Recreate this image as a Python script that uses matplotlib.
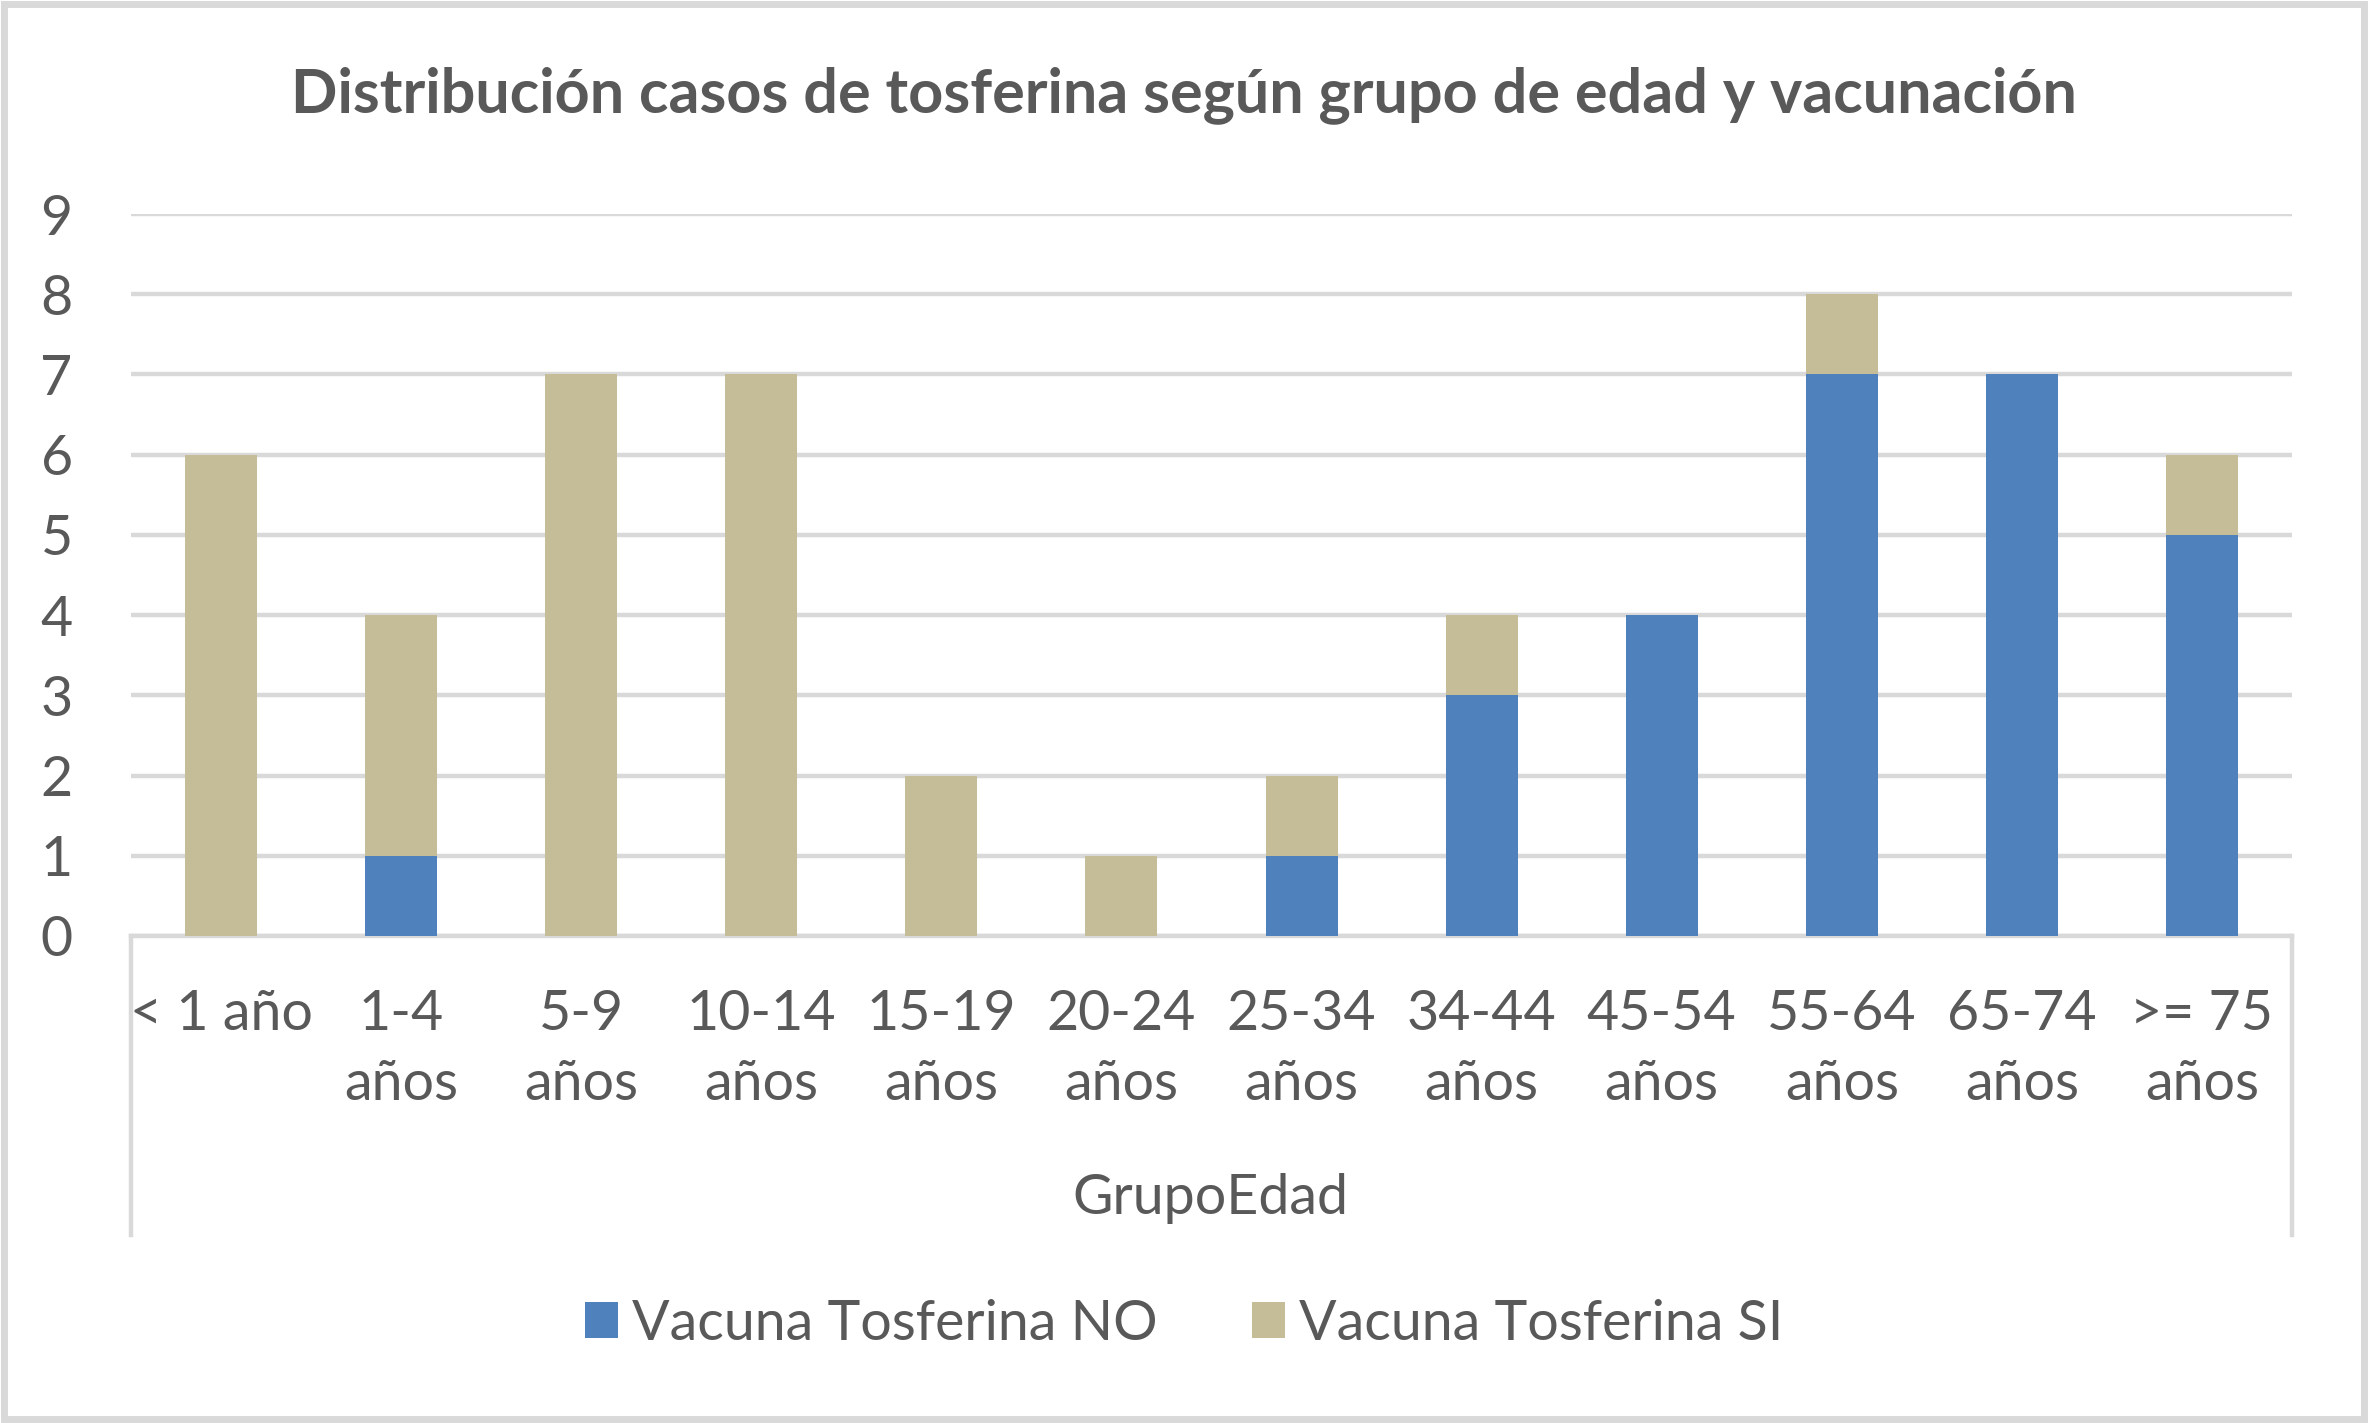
import numpy as np
import matplotlib
matplotlib.use("Agg")
import matplotlib.pyplot as plt
from matplotlib.lines import Line2D
from matplotlib.patches import Rectangle, Patch

plt.rcParams['font.family'] = ['Lato', 'DejaVu Sans']

# datos
grupos = ["< 1 año", "1-4\naños", "5-9\naños", "10-14\naños", "15-19\naños", "20-24\naños",
          "25-34\naños", "34-44\naños", "45-54\naños", "55-64\naños", "65-74\naños", ">= 75\naños"]
vacuna_no = [0, 1, 0, 0, 0, 0, 1, 3, 4, 7, 7, 5]
vacuna_si = [6, 3, 7, 7, 2, 1, 1, 1, 0, 1, 0, 1]
series_names = ["Vacuna Tosferina NO", "Vacuna Tosferina SI"]
yticks = list(range(0, 10))

azul = "#4F81BD"
beige = "#C4BD97"
gris_txt = "#595959"
gris_lin = "#D9D9D9"

W, H = 2368, 1423
fig = plt.figure(figsize=(W / 200, H / 200), dpi=200)
fig.patch.set_facecolor("white")

# marco exterior
fig.patches.append(Rectangle((0.0015, 0.0025), 0.997, 0.995, transform=fig.transFigure,
                             fill=False, edgecolor=gris_lin, linewidth=2.5))

left, right, top, bottom = 131, 2292, 214, 936
ax = fig.add_axes([left / W, 1 - bottom / H, (right - left) / W, (bottom - top) / H])

x = np.arange(len(grupos))
ax.bar(x, vacuna_no, width=0.4, color=azul, label=series_names[0], zorder=3)
ax.bar(x, vacuna_si, width=0.4, bottom=vacuna_no, color=beige, label=series_names[1], zorder=3)

ax.set_xlim(-0.5, len(grupos) - 0.5)
ax.set_ylim(0, 9)
ax.set_yticks(yticks)
ax.set_xticks(x)
ax.set_xticklabels(grupos, linespacing=1.48)
ax.yaxis.grid(True, color=gris_lin, linewidth=1.6, zorder=0)
ax.tick_params(axis='y', length=0, pad=21, labelsize=20, labelcolor=gris_txt)
ax.tick_params(axis='x', length=0, pad=19, labelsize=20, labelcolor=gris_txt)
for s in ["top", "right", "left"]:
    ax.spines[s].set_visible(False)
ax.spines["bottom"].set_color(gris_lin)
ax.spines["bottom"].set_linewidth(1.6)

# lineas verticales del eje de categorias
for xp in (left, right):
    fig.add_artist(Line2D([xp / W, xp / W], [1 - bottom / H, 1 - 1235 / H],
                          color=gris_lin, linewidth=1.6))

fig.text(1210 / W, 1 - 1198 / H, "GrupoEdad", ha="center", va="center",
         fontsize=20, color=gris_txt)

fig.text(0.5, 1 - 95 / H, "Distribución casos de tosferina según grupo de edad y vacunación",
         ha="center", va="center", fontsize=22, fontweight="bold", color=gris_txt)

handles = [Patch(facecolor=azul), Patch(facecolor=beige)]
fig.legend(handles, series_names, loc="center", bbox_to_anchor=(0.5, 1 - 1324 / H),
           ncol=2, frameon=False, fontsize=20, labelcolor=gris_txt,
           handlelength=0.6, handleheight=0.6, handletextpad=0.25, columnspacing=1.7)

fig.savefig("out.png", dpi=200)
